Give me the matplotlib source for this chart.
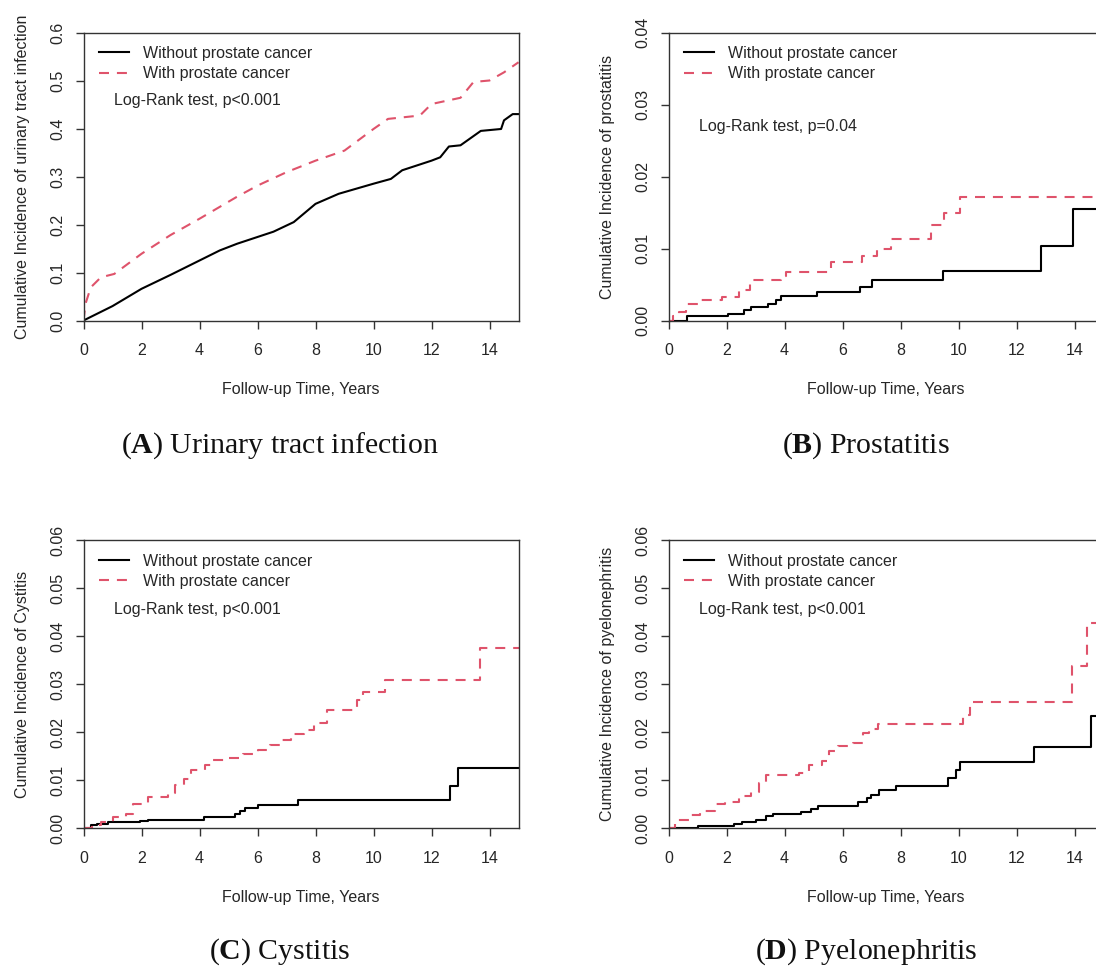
import matplotlib
matplotlib.use("Agg")
import matplotlib.pyplot as plt

plt.rcParams['font.family'] = ['Liberation Sans', 'DejaVu Sans']
plt.rcParams['mathtext.fontset'] = 'custom'
plt.rcParams['mathtext.rm'] = 'Liberation Serif'
plt.rcParams['mathtext.bf'] = 'Liberation Serif:bold'

# ---------------- data ----------------
series_labels = ["Without prostate cancer", "With prostate cancer"]
x_ticks = [0, 2, 4, 6, 8, 10, 12, 14]

# (A) Urinary tract infection
uti_t_without = [0, 0.6, 1.0, 2.0, 3.0, 4.0, 4.7, 5.3, 6.0, 6.55, 7.25, 8.0, 8.8, 10.0,
                 10.6, 10.99, 12.0, 12.3, 12.6, 13.0, 13.7, 14.4, 14.5, 14.8, 15]
uti_y_without = [0, 0.018, 0.03, 0.066, 0.095, 0.125, 0.146, 0.16, 0.174, 0.185, 0.205,
                 0.243, 0.264, 0.285, 0.295, 0.313, 0.333, 0.34, 0.3625, 0.365, 0.395,
                 0.399, 0.417, 0.43, 0.43]
uti_t_with = [0, 0.07, 0.25, 0.6, 1.06, 2.0, 3.0, 4.0, 5.27, 6.0, 7.0, 8.0, 9.0, 10.0,
              10.5, 11.6, 12.0, 13.0, 13.45, 14.0, 14.5, 15]
uti_y_with = [0, 0.035, 0.069, 0.09, 0.097, 0.139, 0.178, 0.212, 0.257, 0.281, 0.309,
              0.333, 0.354, 0.399, 0.42, 0.427, 0.451, 0.464, 0.497, 0.50, 0.517, 0.538]

# (B) Prostatitis
pro_t_without = [0, 0.64, 2.04, 2.62, 2.85, 3.43, 3.70, 3.89, 5.12, 6.62, 7.01, 9.47,
                 12.83, 13.95, 15]
pro_y_without = [0, 0.00056, 0.00093, 0.0014, 0.00185, 0.0023, 0.0029, 0.0034, 0.0039,
                 0.0047, 0.0056, 0.0069, 0.0104, 0.0155, 0.0155]
pro_t_with = [0, 0.15, 0.35, 0.6, 1.04, 1.85, 2.42, 2.8, 3.87, 4.04, 5.6, 6.67, 7.2,
              7.68, 9.06, 9.5, 10.05, 15]
pro_y_with = [0, 0.0006, 0.0012, 0.0023, 0.0028, 0.0033, 0.0042, 0.0056, 0.0062, 0.0067,
              0.0081, 0.009, 0.01, 0.0113, 0.0132, 0.0149, 0.0171, 0.0171]

# (C) Cystitis
cys_t_without = [0, 0.25, 0.48, 0.83, 1.94, 2.23, 4.16, 5.23, 5.39, 5.58, 6.03, 7.4,
                 12.63, 12.92, 15]
cys_y_without = [0, 0.00056, 0.0009, 0.00125, 0.0014, 0.0016, 0.0023, 0.003, 0.0035,
                 0.0042, 0.0047, 0.0059, 0.0088, 0.0125, 0.0125]
cys_t_with = [0, 0.3, 0.6, 1.0, 1.47, 1.7, 2.23, 2.93, 3.17, 3.46, 3.7, 4.2, 4.39, 5.03,
              5.5, 6.03, 6.44, 6.79, 7.14, 7.6, 7.96, 8.4, 9.42, 9.65, 10.4, 13.68, 15]
cys_y_with = [0, 0.0006, 0.00125, 0.0023, 0.003, 0.0051, 0.0065, 0.0072, 0.0089, 0.0103,
              0.012, 0.0131, 0.0141, 0.0146, 0.0155, 0.0162, 0.0172, 0.0183, 0.0195,
              0.0204, 0.0218, 0.0245, 0.0266, 0.0284, 0.0308, 0.0376, 0.0376]

# (D) Pyelonephritis
pye_t_without = [0, 1.0, 2.25, 2.54, 3.0, 3.35, 3.6, 4.58, 4.9, 5.14, 6.52, 6.84, 6.99,
                 7.25, 7.83, 9.64, 9.9, 10.05, 12.61, 14.58, 15]
pye_y_without = [0, 0.0005, 0.0009, 0.0013, 0.0017, 0.0024, 0.0029, 0.0033, 0.004,
                 0.0046, 0.0054, 0.0062, 0.0069, 0.008, 0.0088, 0.0104, 0.0121, 0.0137,
                 0.0168, 0.0234, 0.0234]
pye_t_with = [0, 0.23, 0.69, 1.1, 1.6, 1.96, 2.42, 2.85, 3.12, 3.35, 4.5, 4.85, 5.31,
              5.54, 5.83, 6.35, 6.7, 6.93, 7.22, 10.16, 10.39, 13.91, 14.43, 15]
pye_y_with = [0, 0.0017, 0.0028, 0.0036, 0.0049, 0.0055, 0.0066, 0.0076, 0.0094, 0.011,
              0.0114, 0.0132, 0.014, 0.016, 0.017, 0.0178, 0.0198, 0.0207, 0.0217,
              0.0236, 0.0262, 0.0338, 0.0427, 0.0427]

y_ticks_a = [0.0, 0.1, 0.2, 0.3, 0.4, 0.5, 0.6]
y_labels_a = ["0.0", "0.1", "0.2", "0.3", "0.4", "0.5", "0.6"]
y_ticks_b = [0.00, 0.01, 0.02, 0.03, 0.04]
y_labels_b = ["0.00", "0.01", "0.02", "0.03", "0.04"]
y_ticks_cd = [0.00, 0.01, 0.02, 0.03, 0.04, 0.05, 0.06]
y_labels_cd = ["0.00", "0.01", "0.02", "0.03", "0.04", "0.05", "0.06"]

y_titles = ["Cumulative Incidence of urinary tract infection",
            "Cumulative Incidence of prostatitis",
            "Cumulative Incidence of Cystitis",
            "Cumulative Incidence of pyelonephritis"]
pvalues = ["Log-Rank test, p<0.001", "Log-Rank test, p=0.04",
           "Log-Rank test, p<0.001", "Log-Rank test, p<0.001"]
caption_letters = ["A", "B", "C", "D"]
caption_names = ["Urinary tract infection", "Prostatitis", "Cystitis", "Pyelonephritis"]

# ---------------- figure ----------------
W, H = 1096, 968
fig = plt.figure(figsize=(W / 100, H / 100), dpi=100)
fig.patch.set_facecolor("white")

BLACK = "#000000"
RED = "#DF536B"
FRAME = "#333333"
TXT = "#262626"
FS = 11.5


def px_axes(left, top, right, bottom):
    return fig.add_axes([left / W, 1 - bottom / H, (right - left) / W, (bottom - top) / H])


panels = [
    dict(box=(83.5, 32.5, 518.5, 320.5), ymax=0.6, yt=y_ticks_a, yl=y_labels_a,
         data=(uti_t_without, uti_y_without, uti_t_with, uti_y_with), step=False,
         ptxt_y=0.763, cap=(280, 453)),
    dict(box=(668.5, 32.5, 1103.5, 320.5), ymax=0.04, yt=y_ticks_b, yl=y_labels_b,
         data=(pro_t_without, pro_y_without, pro_t_with, pro_y_with), step=True,
         ptxt_y=0.675, cap=(866, 453)),
    dict(box=(83.5, 540, 518.5, 828), ymax=0.06, yt=y_ticks_cd, yl=y_labels_cd,
         data=(cys_t_without, cys_y_without, cys_t_with, cys_y_with), step=True,
         ptxt_y=0.757, cap=(280, 959)),
    dict(box=(668.5, 540, 1103.5, 828), ymax=0.06, yt=y_ticks_cd, yl=y_labels_cd,
         data=(pye_t_without, pye_y_without, pye_t_with, pye_y_with), step=True,
         ptxt_y=0.757, cap=(866, 959)),
]

for i, p in enumerate(panels):
    ax = px_axes(*p["box"])
    t0, y0, t1, y1 = p["data"]
    if p["step"]:
        l0, = ax.step(t0, y0, where="post", color=BLACK, lw=1.5)
        l1, = ax.step(t1, y1, where="post", color=RED, lw=1.5, dashes=(4.8, 3.8))
    else:
        l0, = ax.plot(t0, y0, color=BLACK, lw=1.5)
        l1, = ax.plot(t1, y1, color=RED, lw=1.5, dashes=(4.8, 3.8))
    ax.set_xlim(0, 15)
    ax.set_ylim(0, p["ymax"])
    ax.set_xticks(x_ticks)
    ax.set_xticklabels([str(v) for v in x_ticks])
    ax.set_yticks(p["yt"])
    ax.set_yticklabels(p["yl"], rotation=90, va="center")
    for s in ax.spines.values():
        s.set_color(FRAME)
        s.set_linewidth(1.0)
    ax.tick_params(direction="out", length=6, width=1, color=FRAME,
                   labelcolor=TXT, labelsize=FS)
    ax.tick_params(axis="x", pad=10.5)
    ax.tick_params(axis="y", pad=7)
    ax.set_xlabel("Follow-up Time, Years", fontsize=FS, color=TXT, va="center")
    ax.xaxis.set_label_coords(0.5, -0.241)
    ax.set_ylabel(y_titles[i], fontsize=FS, color=TXT, va="center")
    ax.yaxis.set_label_coords(-0.14, 0.5)
    ax.legend([l0, l1], series_labels, loc="upper left",
              bbox_to_anchor=(0.036, 0.953), frameon=False, borderpad=0,
              borderaxespad=0, handlelength=1.85, handletextpad=0.9,
              labelspacing=0.32, fontsize=FS, labelcolor=TXT)
    ax.text(0.071, p["ptxt_y"], pvalues[i], transform=ax.transAxes, fontsize=FS,
            color=TXT, ha="left", va="center")
    cx, cy = p["cap"]
    fig.text(cx / W, 1 - cy / H,
             r"($\mathbf{" + caption_letters[i] + r"}$) " + caption_names[i],
             ha="center", va="baseline", fontsize=21.5, family="Liberation Serif",
             color="#111111")

fig.savefig("out.png", dpi=100, facecolor="white")
